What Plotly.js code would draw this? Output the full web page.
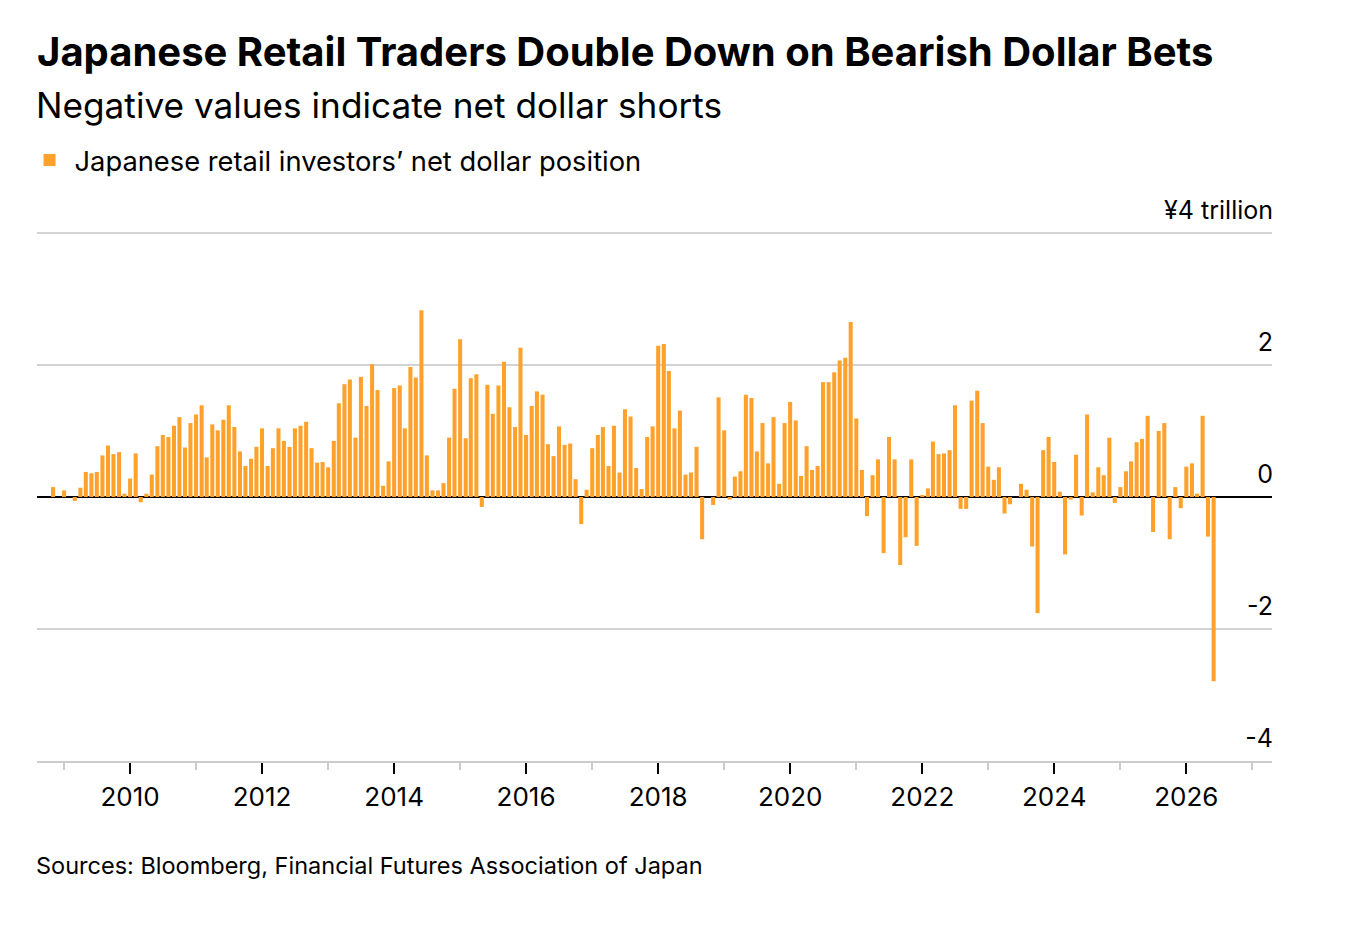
<!DOCTYPE html>
<html>
<head>
<meta charset="utf-8">
<script src="https://cdn.plot.ly/plotly-3.0.1.min.js"></script>
<style>
  html, body { margin: 0; padding: 0; background: #fff; }
  #chart { width: 1360px; height: 942px; }
</style>
</head>
<body>
<div id="chart"></div>
<script>
// Net dollar position of Japanese retail investors, ¥ trillion, monthly
const startYear = 2008;
const startMonth = 11; // first bar: Nov 2008
const v2008 = [0.15, 0.00];
const v2009 = [0.10, 0.00, -0.06, 0.14, 0.38, 0.36, 0.38, 0.63, 0.78, 0.65, 0.68, 0.05];
const v2010 = [0.28, 0.66, -0.08, 0.05, 0.34, 0.77, 0.94, 0.91, 1.08, 1.21, 0.75, 1.12];
const v2011 = [1.25, 1.39, 0.60, 1.10, 1.01, 1.17, 1.39, 1.06, 0.69, 0.47, 0.58, 0.76];
const v2012 = [1.04, 0.47, 0.74, 1.04, 0.85, 0.76, 1.04, 1.08, 1.14, 0.74, 0.52, 0.53];
const v2013 = [0.45, 0.85, 1.42, 1.71, 1.78, 0.90, 1.82, 1.38, 2.01, 1.62, 0.17, 0.54];
const v2014 = [1.65, 1.69, 1.04, 1.97, 1.81, 2.83, 0.63, 0.10, 0.10, 0.21, 0.90, 1.64];
const v2015 = [2.39, 0.89, 1.80, 1.86, -0.15, 1.70, 1.26, 1.69, 2.05, 1.36, 1.06, 2.26];
const v2016 = [0.94, 1.38, 1.60, 1.55, 0.80, 0.62, 1.07, 0.79, 0.81, 0.27, -0.41, 0.11];
const v2017 = [0.74, 0.94, 1.06, 0.47, 1.08, 0.37, 1.33, 1.22, 0.44, 0.12, 0.91, 1.07];
const v2018 = [2.29, 2.32, 1.91, 1.04, 1.31, 0.34, 0.37, 0.76, -0.64, 0.00, -0.12, 1.51];
const v2019 = [1.01, -0.04, 0.31, 0.39, 1.55, 1.50, 0.69, 1.12, 0.51, 1.21, 0.20, 1.12];
const v2020 = [1.44, 1.16, 0.32, 0.77, 0.41, 0.47, 1.74, 1.74, 1.89, 2.07, 2.11, 2.65];
const v2021 = [1.19, 0.41, -0.29, 0.33, 0.57, -0.85, 0.91, 0.57, -1.03, -0.61, 0.57, -0.74];
const v2022 = [0.03, 0.13, 0.84, 0.65, 0.66, 0.71, 1.39, -0.18, -0.18, 1.46, 1.61, 1.12];
const v2023 = [0.46, 0.26, 0.45, -0.25, -0.11, 0.00, 0.20, 0.11, -0.75, -1.76, 0.71, 0.91];
const v2024 = [0.53, 0.08, -0.87, -0.04, 0.64, -0.28, 1.25, 0.07, 0.45, 0.33, 0.90, -0.09];
const v2025 = [0.15, 0.39, 0.54, 0.83, 0.88, 1.23, -0.53, 1.00, 1.12, -0.64, 0.15, -0.17];
const v2026 = [0.46, 0.51, 0.05, 1.23, -0.60, -2.79];

const yTickVals = [-4, -2, 0, 2, 4];
const yTickText = ['-4', '-2', '0', '2', '¥4 trillion'];

const titleText = 'Japanese Retail Traders Double Down on Bearish Dollar Bets';
const subtitleText = 'Negative values indicate net dollar shorts';
const seriesName = 'Japanese retail investors’ net dollar position';
const sourceText = 'Sources: Bloomberg, Financial Futures Association of Japan';

const values = [].concat(v2008, v2009, v2010, v2011, v2012, v2013, v2014, v2015,
  v2016, v2017, v2018, v2019, v2020, v2021, v2022, v2023, v2024, v2025, v2026);
const dates = values.map((_, i) => {
  const m0 = (startMonth - 1) + i;
  const y = startYear + Math.floor(m0 / 12);
  const m = (m0 % 12) + 1;
  return y + '-' + String(m).padStart(2, '0') + '-01';
});

const FONT = 'Inter, "Liberation Sans", Arial, sans-serif';
const ORANGE = '#ffa12b';
const GRID = '#d3d3d3';

const trace = {
  type: 'bar',
  x: dates,
  y: values,
  name: seriesName,
  marker: { color: ORANGE, line: { width: 0 } },
  hoverinfo: 'x+y'
};

const layout = {
  width: 1360,
  height: 942,
  paper_bgcolor: '#fff',
  plot_bgcolor: '#fff',
  margin: { l: 37, r: 88, t: 233, b: 181 },
  bargap: 0.2,
  font: { family: FONT, color: '#000' },
  title: {
    text: '<b>' + titleText + '</b>',
    x: 37 / 1360, xref: 'container', xanchor: 'left',
    y: 1 - 52 / 942, yref: 'container', yanchor: 'middle',
    font: { family: FONT, size: 40, color: '#000' }
  },
  showlegend: true,
  legend: {
    orientation: 'h',
    x: -0.0101, xanchor: 'left',
    y: 1.138, yanchor: 'middle',
    itemwidth: 40,
    font: { family: FONT, size: 27.3, color: '#000' },
    itemclick: false, itemdoubleclick: false,
    bgcolor: 'rgba(0,0,0,0)'
  },
  xaxis: {
    type: 'date',
    range: ['2008-08-04', '2027-04-20'],
    showgrid: false,
    zeroline: false,
    showline: true,
    linecolor: '#cccccc',
    linewidth: 2,
    ticks: 'outside',
    ticklen: 11,
    tickwidth: 2,
    tickcolor: '#000',
    tick0: '2010-01-01',
    dtick: 'M24',
    tickformat: '%Y',
    ticklabelstandoff: 1,
    tickfont: { family: FONT, size: 26, color: '#000' },
    minor: {
      tick0: '2009-01-01',
      dtick: 'M12',
      ticks: 'outside',
      ticklen: 7,
      tickwidth: 2,
      tickcolor: '#cccccc',
      showgrid: false
    },
    fixedrange: true
  },
  yaxis: {
    range: [-4, 4],
    side: 'right',
    tickvals: yTickVals,
    ticktext: yTickText,
    ticks: '',
    ticklabelposition: 'inside',
    ticklabeloverflow: 'allow',
    ticklabelshift: -23,
    ticklabelstandoff: -4,
    tickfont: { family: FONT, size: 25, color: '#000' },
    showgrid: true,
    gridcolor: GRID,
    gridwidth: 2,
    zeroline: true,
    zerolinecolor: '#000',
    zerolinewidth: 2,
    showline: false,
    fixedrange: true
  },
  shapes: [
    {
      // top gridline at the upper end of the y range (Plotly clips edge gridlines)
      type: 'line', xref: 'paper', yref: 'paper',
      x0: 0, x1: 1, y0: 1, y1: 1,
      line: { color: GRID, width: 2 },
      layer: 'below'
    }
  ],
  annotations: [
    {
      text: subtitleText,
      xref: 'paper', yref: 'paper',
      x: 0, y: (761 - 105) / 528, xshift: -3,
      xanchor: 'left', yanchor: 'middle',
      showarrow: false,
      font: { family: FONT, size: 35.2, color: '#000' }
    },
    {
      text: sourceText,
      xref: 'paper', yref: 'paper',
      x: 0, y: (761 - 865) / 528, xshift: -3,
      xanchor: 'left', yanchor: 'middle',
      showarrow: false,
      font: { family: FONT, size: 23.5, color: '#000' }
    }
  ]
};

Plotly.newPlot('chart', [trace], layout, { displayModeBar: false });
</script>
</body>
</html>
